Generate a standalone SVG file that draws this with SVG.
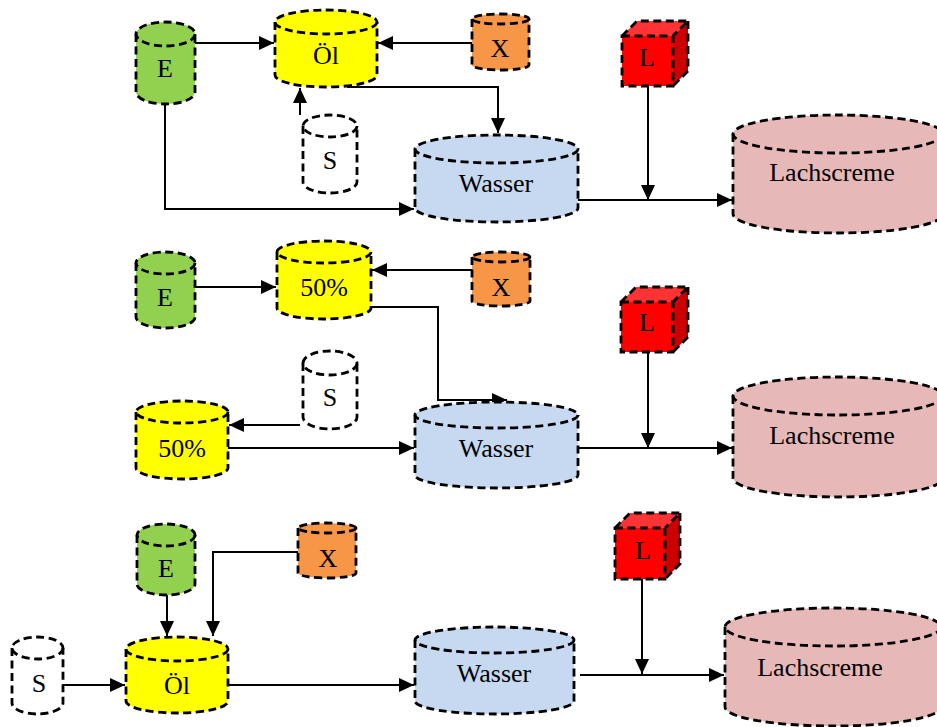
<svg xmlns="http://www.w3.org/2000/svg" width="937" height="727" viewBox="0 0 937 727">
<style>
.o{stroke:#000;stroke-width:2.8;stroke-dasharray:8 4.5;fill:none}
.b{stroke:none}
.t{font-family:"Liberation Serif","Times New Roman",serif;font-size:26px;fill:#000;text-anchor:middle}
.c{stroke:#000;stroke-width:2;fill:none;marker-end:url(#ah)}
.g{fill:#92d050}.y{fill:#ffff00}.x{fill:#f79646}.w{fill:#c6d9f1}.l{fill:#e6b9b8}.s{fill:#fff}
</style>
<defs>
<marker id="ah" markerUnits="userSpaceOnUse" markerWidth="16" markerHeight="14" refX="15" refY="7" orient="auto">
<path d="M0,0 L15,7 L0,14 z" fill="#000"/>
</marker>
</defs>
<rect width="937" height="727" fill="#fff"/>

<g id="connectors">
<path class="c" d="M195,43 H274"/>
<path class="c" d="M472,43 H378"/>
<path class="c" d="M300,115 V88"/>
<path class="c" d="M347,87 H498 V133"/>
<path class="c" d="M165,104 V209 H414"/>
<path class="c" d="M648,86 V200"/>
<path class="c" d="M578,200 H732"/>
<path class="c" d="M195,287 H276"/>
<path class="c" d="M472,270 H372"/>
<path class="c" d="M371,307 H438 V400 H507"/>
<path class="c" d="M300,425 H229"/>
<path class="c" d="M228,448 H414"/>
<path class="c" d="M648,352 V448"/>
<path class="c" d="M578,448 H732"/>
<path class="c" d="M167,595 V636"/>
<path class="c" d="M298,552 H213 V636"/>
<path class="c" d="M63,685 H125"/>
<path class="c" d="M228,685 H414"/>
<path class="c" d="M642,579 V674"/>
<path class="c" d="M580,675 H724"/>
</g>

<g id="E1">
<path class="b g" d="M136,34 V92 A29.5,12 0 0 0 195,92 V34 Z"/>
<ellipse class="g" cx="165.5" cy="34" rx="29.5" ry="12"/>
<path class="o" d="M136,34 V92 A29.5,12 0 0 0 195,92 V34"/>
<ellipse class="o" cx="165.5" cy="34" rx="29.5" ry="12"/>
<text class="t" x="165" y="77">E</text>
</g>
<g id="Oel1">
<path class="b y" d="M275,22 V75 A51,12 0 0 0 377,75 V22 Z"/>
<ellipse class="y" cx="326" cy="22" rx="51" ry="12"/>
<path class="o" d="M275,22 V75 A51,12 0 0 0 377,75 V22"/>
<ellipse class="o" cx="326" cy="22" rx="51" ry="12"/>
<text class="t" x="326" y="64">Öl</text>
</g>
<g id="X1">
<path class="b x" d="M472,19 V65 A28.5,5 0 0 0 529,65 V19 Z"/>
<ellipse class="x" cx="500.5" cy="19" rx="28.5" ry="5"/>
<path class="o" d="M472,19 V65 A28.5,5 0 0 0 529,65 V19"/>
<ellipse class="o" cx="500.5" cy="19" rx="28.5" ry="5"/>
<text class="t" x="500" y="57">X</text>
</g>
<g id="S1">
<path class="b s" d="M303,126 V182 A27,11 0 0 0 357,182 V126 Z"/>
<path class="o" d="M303,126 V182 A27,11 0 0 0 357,182 V126"/>
<ellipse class="o" cx="330" cy="126" rx="27" ry="11"/>
<text class="t" x="330" y="169">S</text>
</g>
<g id="Wasser1">
<path class="b w" d="M415,149 V208 A81.5,14 0 0 0 578,208 V149 Z"/>
<ellipse class="w" cx="496.5" cy="149" rx="81.5" ry="14"/>
<path class="o" d="M415,149 V208 A81.5,14 0 0 0 578,208 V149"/>
<ellipse class="o" cx="496.5" cy="149" rx="81.5" ry="14"/>
<text class="t" x="496" y="192">Wasser</text>
</g>
<g id="L1">
<rect x="622" y="36" width="51" height="50" fill="#ff0000"/>
<polygon points="622,36 637,21 688,21 673,36" fill="#ff3333"/>
<polygon points="673,36 688,21 688,71 673,86" fill="#cc0000"/>
<path class="o" d="M622,36 H673 V86 H622 Z M622,36 L637,21 H688 L673,36 M688,21 V71 L673,86"/>
<text class="t" x="647" y="66">L</text>
</g>
<g id="Lachscreme1">
<path class="b l" d="M733,134 V214 A105,19 0 0 0 943,214 V134 Z"/>
<ellipse class="l" cx="838" cy="134" rx="105" ry="19"/>
<path class="o" d="M733,134 V214 A105,19 0 0 0 943,214 V134"/>
<ellipse class="o" cx="838" cy="134" rx="105" ry="19"/>
<text class="t" x="832" y="181">Lachscreme</text>
</g>

<g id="E2">
<path class="b g" d="M136,263 V317 A29.5,11 0 0 0 195,317 V263 Z"/>
<ellipse class="g" cx="165.5" cy="263" rx="29.5" ry="11"/>
<path class="o" d="M136,263 V317 A29.5,11 0 0 0 195,317 V263"/>
<ellipse class="o" cx="165.5" cy="263" rx="29.5" ry="11"/>
<text class="t" x="165" y="306">E</text>
</g>
<g id="Oel50a">
<path class="b y" d="M277,252 V308 A47,11 0 0 0 371,308 V252 Z"/>
<ellipse class="y" cx="324" cy="252" rx="47" ry="11"/>
<path class="o" d="M277,252 V308 A47,11 0 0 0 371,308 V252"/>
<ellipse class="o" cx="324" cy="252" rx="47" ry="11"/>
<text class="t" x="324" y="296">50%</text>
</g>
<g id="X2">
<path class="b x" d="M472,257 V301 A29,5 0 0 0 530,301 V257 Z"/>
<ellipse class="x" cx="501" cy="257" rx="29" ry="5"/>
<path class="o" d="M472,257 V301 A29,5 0 0 0 530,301 V257"/>
<ellipse class="o" cx="501" cy="257" rx="29" ry="5"/>
<text class="t" x="501" y="296">X</text>
</g>
<g id="S2">
<path class="b s" d="M303,363 V417 A27,12 0 0 0 357,417 V363 Z"/>
<path class="o" d="M303,363 V417 A27,12 0 0 0 357,417 V363"/>
<ellipse class="o" cx="330" cy="363" rx="27" ry="12"/>
<text class="t" x="330" y="406">S</text>
</g>
<g id="Oel50b">
<path class="b y" d="M136,412 V468 A46,11 0 0 0 228,468 V412 Z"/>
<ellipse class="y" cx="182" cy="412" rx="46" ry="11"/>
<path class="o" d="M136,412 V468 A46,11 0 0 0 228,468 V412"/>
<ellipse class="o" cx="182" cy="412" rx="46" ry="11"/>
<text class="t" x="182" y="457">50%</text>
</g>
<g id="Wasser2">
<path class="b w" d="M415,415 V475 A81.5,13 0 0 0 578,475 V415 Z"/>
<ellipse class="w" cx="496.5" cy="415" rx="81.5" ry="13"/>
<path class="o" d="M415,415 V475 A81.5,13 0 0 0 578,475 V415"/>
<ellipse class="o" cx="496.5" cy="415" rx="81.5" ry="13"/>
<text class="t" x="496" y="457">Wasser</text>
</g>
<g id="L2">
<rect x="621" y="302" width="52" height="50" fill="#ff0000"/>
<polygon points="621,302 636,287 688,287 673,302" fill="#ff3333"/>
<polygon points="673,302 688,287 688,337 673,352" fill="#cc0000"/>
<path class="o" d="M621,302 H673 V352 H621 Z M621,302 L636,287 H688 L673,302 M688,287 V337 L673,352"/>
<text class="t" x="647" y="331">L</text>
</g>
<g id="Lachscreme2">
<path class="b l" d="M733,396 V478 A105,19 0 0 0 943,478 V396 Z"/>
<ellipse class="l" cx="838" cy="396" rx="105" ry="19"/>
<path class="o" d="M733,396 V478 A105,19 0 0 0 943,478 V396"/>
<ellipse class="o" cx="838" cy="396" rx="105" ry="19"/>
<text class="t" x="832" y="444">Lachscreme</text>
</g>

<g id="E3">
<path class="b g" d="M137,535 V584 A29,11 0 0 0 195,584 V535 Z"/>
<ellipse class="g" cx="166" cy="535" rx="29" ry="11"/>
<path class="o" d="M137,535 V584 A29,11 0 0 0 195,584 V535"/>
<ellipse class="o" cx="166" cy="535" rx="29" ry="11"/>
<text class="t" x="166" y="577">E</text>
</g>
<g id="X3">
<path class="b x" d="M298,528 V573 A29,5 0 0 0 356,573 V528 Z"/>
<ellipse class="x" cx="327" cy="528" rx="29" ry="5"/>
<path class="o" d="M298,528 V573 A29,5 0 0 0 356,573 V528"/>
<ellipse class="o" cx="327" cy="528" rx="29" ry="5"/>
<text class="t" x="328" y="567">X</text>
</g>
<g id="Oel3">
<path class="b y" d="M126,649 V701 A51,12 0 0 0 228,701 V649 Z"/>
<ellipse class="y" cx="177" cy="649" rx="51" ry="12"/>
<path class="o" d="M126,649 V701 A51,12 0 0 0 228,701 V649"/>
<ellipse class="o" cx="177" cy="649" rx="51" ry="12"/>
<text class="t" x="177" y="694">Öl</text>
</g>
<g id="S3">
<path class="b s" d="M12,648 V703 A25.5,11 0 0 0 63,703 V648 Z"/>
<path class="o" d="M12,648 V703 A25.5,11 0 0 0 63,703 V648"/>
<ellipse class="o" cx="37.5" cy="648" rx="25.5" ry="11"/>
<text class="t" x="39" y="692">S</text>
</g>
<g id="Wasser3">
<path class="b w" d="M415,640 V701 A79.5,13 0 0 0 574,701 V640 Z"/>
<ellipse class="w" cx="494.5" cy="640" rx="79.5" ry="13"/>
<path class="o" d="M415,640 V701 A79.5,13 0 0 0 574,701 V640"/>
<ellipse class="o" cx="494.5" cy="640" rx="79.5" ry="13"/>
<text class="t" x="494" y="682">Wasser</text>
</g>
<g id="L3">
<rect x="615" y="528" width="50" height="51" fill="#ff0000"/>
<polygon points="615,528 630,513 680,513 665,528" fill="#ff3333"/>
<polygon points="665,528 680,513 680,564 665,579" fill="#cc0000"/>
<path class="o" d="M615,528 H665 V579 H615 Z M615,528 L630,513 H680 L665,528 M680,513 V564 L665,579"/>
<text class="t" x="643" y="559">L</text>
</g>
<g id="Lachscreme3">
<path class="b l" d="M725,627 V707 A108,19 0 0 0 941,707 V627 Z"/>
<ellipse class="l" cx="833" cy="627" rx="108" ry="19"/>
<path class="o" d="M725,627 V707 A108,19 0 0 0 941,707 V627"/>
<ellipse class="o" cx="833" cy="627" rx="108" ry="19"/>
<text class="t" x="820" y="676">Lachscreme</text>
</g>
</svg>
